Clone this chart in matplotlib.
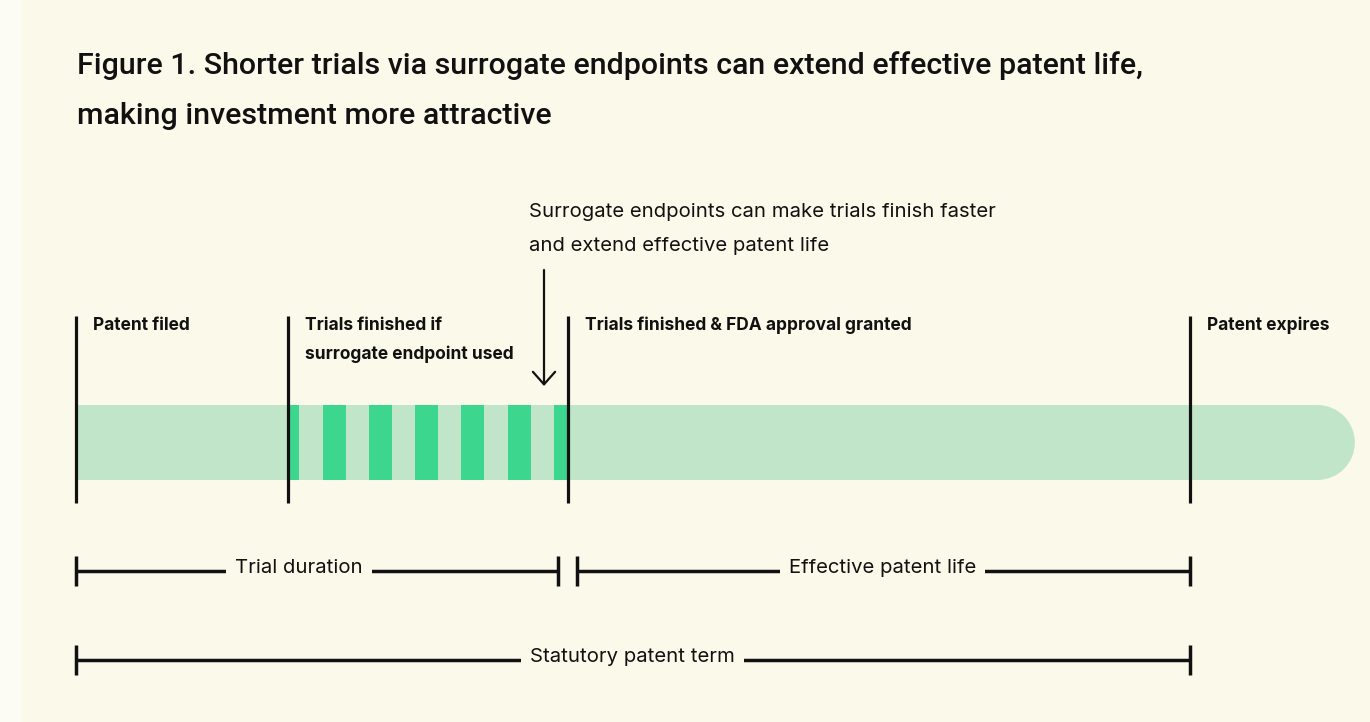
import matplotlib
matplotlib.use("Agg")
import matplotlib.pyplot as plt
from matplotlib.patches import Rectangle, Ellipse
import numpy as np

# ---------------- data (timeline in years from patent filing) ----------------
title_lines = [
    "Figure 1. Shorter trials via surrogate endpoints can extend effective patent life,",
    "making investment more attractive",
]
annotation_lines = [
    "Surrogate endpoints can make trials finish faster",
    "and extend effective patent life",
]
milestone_names = [
    "Patent filed",
    "Trials finished if\nsurrogate endpoint used",
    "Trials finished & FDA approval granted",
    "Patent expires",
]
milestone_years = [0.0, 3.806, 8.833, 20.0]
timeline_end = 22.96
stripe_count = 7

span_names = ["Trial duration", "Effective patent life", "Statutory patent term"]
span_starts = [0.0, 8.833, 0.0]
span_ends = [8.833, 20.0, 20.0]
span_rows = [0, 0, 1]
span_label_pos = [4.0, 14.48, 9.99]

# ---------------- styling ----------------
W, H, DPI = 1370, 722, 100
INK = "#111111"
CREAM = "#FBF9EA"
EDGE = "#FDFCF4"
LIGHT_GREEN = "#C1E5C8"
DARK_GREEN = "#3DD68F"
FONT = ["Inter", "DejaVu Sans"]
TITLE_FONT = ["Roboto", "DejaVu Sans"]

plt.rcParams["font.family"] = FONT

fig = plt.figure(figsize=(W / DPI, H / DPI), dpi=DPI)
fig.patch.set_facecolor(EDGE)
fig.add_artist(Rectangle((22 / W, 0), 1 - 22 / W, 1, transform=fig.transFigure,
                         facecolor=CREAM, edgecolor="none", zorder=-10))

ax = fig.add_axes([0, 0, 1, 1])
ax.set_facecolor("none")
X0 = 76.0
PPY = (1190.0 - 76.0) / 20.0   # pixels per year
ax.set_xlim(-X0 / PPY, (W - X0) / PPY)
ax.set_ylim(H, 0)
ax.axis("off")


def px(d):
    """horizontal pixel distance -> years"""
    return d / PPY


# ---------------- title (size fitted to the reference's combined line widths) ----------------
title_texts = []
for i, line in enumerate(title_lines):
    t = fig.text(77 / W, 1 - (74 + 50 * i) / H, line, fontsize=24, fontweight="medium",
                 family=TITLE_FONT, color=INK, ha="left", va="baseline")
    title_texts.append(t)
renderer = fig.canvas.get_renderer()
w_total = sum(t.get_window_extent(renderer).width for t in title_texts)
fs = 24 * (1036.0 + 505.0) / w_total
for t in title_texts:
    t.set_fontsize(fs)

# ---------------- timeline bar ----------------
bar_top, bar_h = 405, 75
r = px(bar_h / 2)
ax.add_patch(Rectangle((milestone_years[0], bar_top), timeline_end - r - milestone_years[0], bar_h,
                       facecolor=LIGHT_GREEN, edgecolor="none", zorder=1))
ax.add_patch(Ellipse((timeline_end - r, bar_top + bar_h / 2), 2 * r, bar_h,
                     facecolor=LIGHT_GREEN, edgecolor="none", zorder=1))

# stripes between surrogate finish and trial finish
s0, s1 = milestone_years[1], milestone_years[2]
centers = np.linspace(s0, s1 - px(2.5), stripe_count)
sw = px(23)
for c in centers:
    a, b = max(c - sw / 2, s0), min(c + sw / 2, s1)
    ax.add_patch(Rectangle((a, bar_top), b - a, bar_h, facecolor=DARK_GREEN,
                           edgecolor="none", zorder=2))

# milestone lines and labels
ax.vlines(milestone_years, 316, 503, color=INK, lw=2.3, zorder=3)
for yr, name in zip(milestone_years, milestone_names):
    for j, line in enumerate(name.split("\n")):
        ax.text(yr + px(17), 325 + 29 * j, line, fontsize=12.5, fontweight="bold",
                color=INK, ha="left", va="center")

# annotation + arrow
ann_x = px(529 - X0)
for j, line in enumerate(annotation_lines):
    ax.text(ann_x, 212 + 34 * j, line, fontsize=14.6, color=INK, ha="left", va="center")
arrow_x = px(544 - X0)
ax.annotate("", xy=(arrow_x, 386), xytext=(arrow_x, 270),
            arrowprops=dict(arrowstyle="->,head_length=0.45,head_width=0.4", lw=1.6,
                            color=INK, shrinkA=0, shrinkB=0, mutation_scale=20))

# ---------------- span brackets ----------------
row_y = [571, 660]
half_gap = px(9.5)
tick_h = 15
for name, a, b, row, lp in zip(span_names, span_starts, span_ends, span_rows, span_label_pos):
    y = row_y[row]
    # shorten where spans in the same row meet
    for a2, b2, r2 in zip(span_starts, span_ends, span_rows):
        if r2 == row and (a2, b2) != (a, b):
            if abs(b - a2) < 1e-6:
                b -= half_gap
            if abs(a - b2) < 1e-6:
                a += half_gap
    ax.hlines(y, a, b, color=INK, lw=2.5, zorder=3)
    ax.vlines([a, b], y - tick_h, y + tick_h, color=INK, lw=2.5, zorder=3)
    ax.text(lp, y - 3, name, fontsize=14.6, color=INK, ha="center", va="center", zorder=4,
            bbox=dict(boxstyle="square,pad=0.45", facecolor=CREAM, edgecolor="none"))

fig.savefig("out.png", dpi=DPI, facecolor=fig.get_facecolor())
